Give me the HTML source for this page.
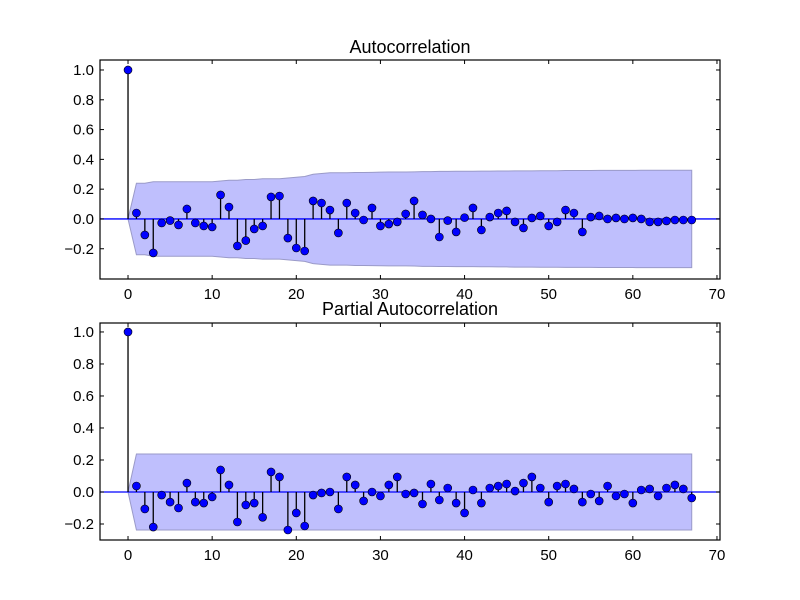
<!DOCTYPE html>
<html><head><meta charset="utf-8"><style>
html,body{margin:0;padding:0;background:#fff;}
svg{display:block;font-family:"Liberation Sans","DejaVu Sans",sans-serif;}
</style></head><body>
<svg id="fig" width="800" height="600"></svg>
<script>
const lags = Array.from({length:68},(_,i)=>i);
const acfValues = [1.0,0.04,-0.107,-0.228,-0.027,-0.011,-0.04,0.067,-0.027,-0.047,-0.054,0.161,0.08,-0.181,-0.145,-0.067,-0.047,0.148,0.154,-0.128,-0.195,-0.215,0.121,0.107,0.06,-0.094,0.107,0.04,-0.007,0.074,-0.047,-0.034,-0.02,0.034,0.121,0.027,0,-0.121,-0.011,-0.087,0.009,0.074,-0.074,0.013,0.04,0.054,-0.02,-0.06,0.007,0.02,-0.047,-0.02,0.06,0.04,-0.087,0.013,0.02,0,0.007,0,0.007,0,-0.02,-0.02,-0.013,-0.007,-0.007,-0.007];
const acfConf = [0,0.24,0.24,0.25,0.25,0.25,0.25,0.25,0.25,0.25,0.25,0.255,0.26,0.26,0.265,0.265,0.27,0.27,0.27,0.275,0.28,0.285,0.3,0.305,0.31,0.31,0.31,0.312,0.312,0.313,0.314,0.315,0.315,0.315,0.316,0.318,0.318,0.319,0.319,0.32,0.32,0.32,0.321,0.321,0.322,0.322,0.323,0.323,0.323,0.324,0.324,0.324,0.325,0.325,0.325,0.325,0.326,0.326,0.326,0.326,0.326,0.327,0.327,0.327,0.327,0.327,0.327,0.327];
const pacfValues = [1.0,0.0375,-0.106,-0.219,-0.019,-0.063,-0.1,0.056,-0.063,-0.069,-0.031,0.1375,0.044,-0.1875,-0.081,-0.069,-0.158,0.125,0.094,-0.2375,-0.131,-0.2125,-0.019,-0.006,0,-0.106,0.094,0.044,-0.056,0,-0.025,0.044,0.094,-0.0125,-0.006,-0.075,0.05,-0.05,0.025,-0.069,-0.131,0.0125,-0.069,0.025,0.0375,0.05,0.006,0.056,0.094,0.025,-0.063,0.0375,0.05,0.019,-0.063,-0.0125,-0.056,0.0375,-0.025,-0.0125,-0.069,0.0125,0.019,-0.025,0.025,0.044,0.019,-0.0375];
const pacfConf = lags.map(l=> l===0?0:0.2375);
const xTicks = [0,10,20,30,40,50,60,70];
const acfYTicks = [1.0,0.8,0.6,0.4,0.2,0.0,-0.2];
const pacfYTicks = [1.0,0.8,0.6,0.4,0.2,0.0,-0.2];

const NS='http://www.w3.org/2000/svg';
const svg=document.getElementById('fig');
function el(tag,attrs,parent){const e=document.createElementNS(NS,tag);for(const k in attrs)e.setAttribute(k,attrs[k]);(parent||svg).appendChild(e);return e;}

function panel(cfg){
  const g=el('g',{});
  
  
  const L=100,R=720,T=cfg.top,B=cfg.bottom;
  const x=v=>L+(v-(-3.33))/(70.36-(-3.33))*(R-L);
  const y=v=>B-(v-cfg.ymin)/(cfg.ymax-cfg.ymin)*(B-T);
  // band
  let up='',lo='';
  lags.forEach((l,i)=>{up+=(i?'L':'M')+x(l)+','+y(cfg.conf[i]);});
  for(let i=lags.length-1;i>=0;i--) lo+='L'+x(lags[i])+','+y(-cfg.conf[i]);
  const band=el('path',{d:up+lo+'Z',fill:'#bfbffd',stroke:'#9a9ac8','stroke-width':1},g);
  
  
  // zero line
  const zl=el('line',{x1:L,x2:R,y1:y(0),y2:y(0),stroke:'#0000ff','stroke-width':1.3},g);
  
  
  // stems
  cfg.values.forEach((v,i)=>{
    const s=el('line',{x1:x(lags[i]),x2:x(lags[i]),y1:y(0),y2:y(v),stroke:'#000','stroke-width':1.3},g);
    
    
  });
  cfg.values.forEach((v,i)=>{
    const c=el('circle',{cx:x(lags[i]),cy:y(v),r:4,fill:'#0000ff',stroke:'#000','stroke-width':0.6},g);
    
    
  });
  // frame
  const fr=el('rect',{x:L,y:T,width:R-L,height:B-T,fill:'none',stroke:'#000','stroke-width':1.2},g);
  
  
  xTicks.forEach(t=>{
    el('line',{x1:x(t),x2:x(t),y1:B,y2:B-4,stroke:'#000'},g);
    el('line',{x1:x(t),x2:x(t),y1:T,y2:T+4,stroke:'#000'},g);
    const tx=el('text',{x:x(t),y:B+20,'text-anchor':'middle','font-size':15,fill:'#000'},g);
    tx.textContent=t;
    
    
  });
  cfg.yticks.forEach(t=>{
    el('line',{x1:L,x2:L+4,y1:y(t),y2:y(t),stroke:'#000'},g);
    el('line',{x1:R,x2:R-4,y1:y(t),y2:y(t),stroke:'#000'},g);
    const tx=el('text',{x:L-6,y:y(t)+5,'text-anchor':'end','font-size':15,fill:'#000'},g);
    tx.textContent=(t<0?'\u2212':'')+Math.abs(t).toFixed(1);
    
    
  });
  const ti=el('text',{x:410,y:cfg.titleY,'text-anchor':'middle','font-size':18,fill:'#000'},g);
  ti.textContent=cfg.title;
  
  
}
panel({name:'acf-panel',top:60,bottom:279,ymin:-0.403,ymax:1.067,values:acfValues,conf:acfConf,yticks:acfYTicks,title:'Autocorrelation',titleY:53});
panel({name:'pacf-panel',top:323,bottom:540,ymin:-0.3,ymax:1.056,values:pacfValues,conf:pacfConf,yticks:pacfYTicks,title:'Partial Autocorrelation',titleY:315});
</script>
</body></html>
